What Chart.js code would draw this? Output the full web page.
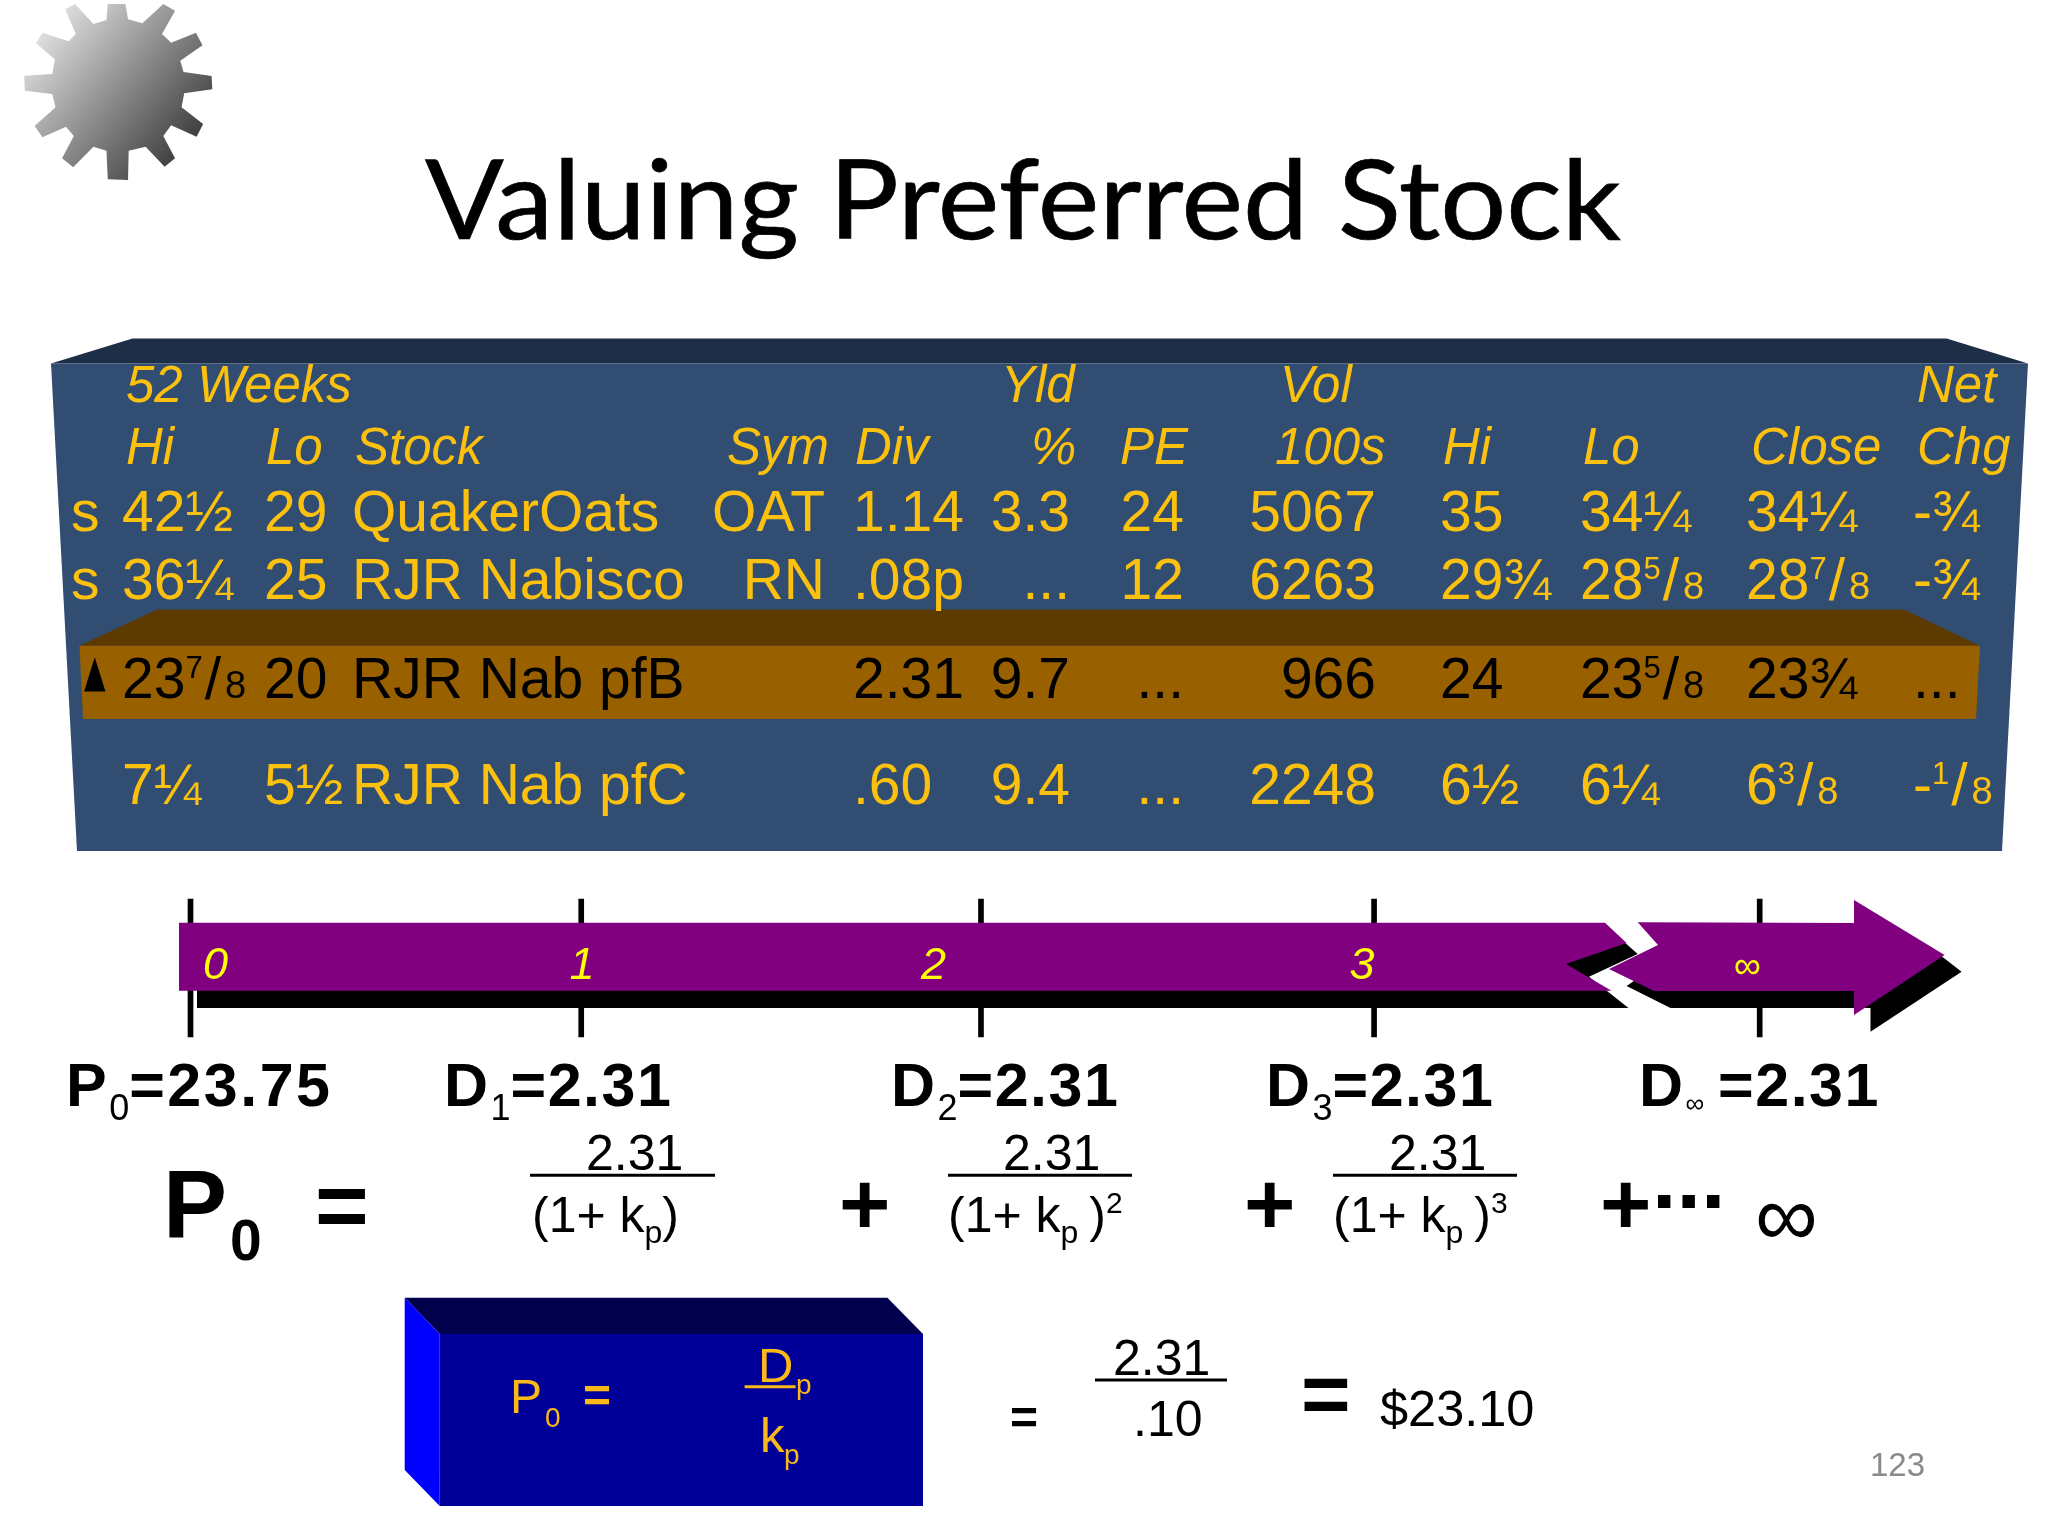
<!DOCTYPE html>
<html>
<head>
<meta charset="utf-8">
<title>Valuing Preferred Stock</title>
<style>
html,body{margin:0;padding:0;background:#fff;}
canvas{display:block;}
</style>
<script src="https://cdn.jsdelivr.net/npm/chart.js@4/dist/chart.umd.min.js"></script>
</head>
<body>
<canvas id="slide" width="2048" height="1536"></canvas>
<script>
// quote table, one list per column ("^7/8" = small numerator, slash, small denominator)
const title='Valuing Preferred Stock';
const headerTop=['52 Weeks','Yld','Vol','Net'];
const headerBottom=['Hi','Lo','Stock','Sym','Div','%','PE','100s','Hi','Lo','Close','Chg'];
const rowFlag=['s','s','▲',''];
const hi52=['42½','36¼','23^7/8','7¼'];
const lo52=['29','25','20','5½'];
const stock=['QuakerOats','RJR Nabisco','RJR Nab pfB','RJR Nab pfC'];
const sym=['OAT','RN','',''];
const div=['1.14','.08p','2.31','.60'];
const yld=['3.3','...','9.7','9.4'];
const pe=['24','12','...','...'];
const vol=['5067','6263','966','2248'];
const hi=['35','29¾','24','6½'];
const lo=['34¼','28^5/8','23^5/8','6¼'];
const close=['34¼','28^7/8','23¾','6^3/8'];
const netChg=['-¾','-¾','...','-^1/8'];

// timeline
const periodLabels=['0','1','2','3','∞'];
const periodValues=[0,0.996,2.015,3.017,4];
const flowNames=['P','D','D','D','D'];
const flowSubs=['0','1','2','3','∞'];
const flowValues=['23.75','2.31','2.31','2.31','2.31'];

// formula
const dividend='2.31';
const requiredReturn='.10';
const answer='$23.10';
const pageNumber='123';

// layout, in slide pixels
const FACE='#314e72',FACE_TOP='#1f2e47',BAR='#996000',BAR_TOP='#5c3a00';
const PURPLE='#800080',GOLD='#fcc00e',BOX_GOLD='#fbb917';
const SANS='"Liberation Sans"';
const headerTopX=[126,1001,1280,1917];
const headerBottomX=[126,266,355,727,855,1031,1120,1275,1443,1583,1751,1917];
const headerY=[402,463.6];
const rowY=[530.8,598.6,697.8,803.8];
const columns=[
  [rowFlag,71,'left'],[hi52,122,'left'],[lo52,264,'left'],[stock,352,'left'],
  [sym,825,'right'],[div,853,'left'],[yld,1070,'right'],[pe,1184,'right'],
  [vol,1376,'right'],[hi,1440,'left'],[lo,1580,'left'],[close,1746,'left'],[netChg,1913,'left'],
];
const flagX=84;
const periodLabelX=[215.5,582,933.5,1362,1747];
const flowX=[66,444,891,1266,1639];
const tickSpan=[899,1037];
const gearOutline=[[165,12],[192,12],[196,58],[218,70],[250,12],[268,32],[248,102],[262,128],[300,98],[310,136],[276,182],[281,216],[324,228],[325,268],[282,280],[278,322],[311,372],[301,410],[262,376],[250,408],[268,475],[252,500],[223,440],[197,452],[196,540],[165,538],[163,452],[143,440],[112,502],[95,475],[113,408],[101,380],[65,412],[53,378],[85,322],[80,282],[38,272],[37,227],[80,222],[84,178],[55,130],[65,98],[105,124],[116,102],[100,28],[115,12],[143,72],[163,60]]
  .map(([x,y])=>[x/1.531,y/3]);

function shapes(){
  return {
    panelTop:[[132.5,338.6],[1946.6,338.6],[2028,363.4],[51,363.4]],
    panelFace:[[51,363.4],[2028,363.4],[2002,851],[77,851]],
    barTop:[[157,609.6],[1904,609.6],[1980,645.8],[79.5,645.8]],
    barFace:[[79.5,645.8],[1980,645.8],[1976,719],[83,719]],
    shadowA:[[197,940],[1622,940],[1637.7,954],[1589,976.7],[1628.5,1008],[197,1008]],
    shadowB:[[1626.6,986],[1670.5,1008],[1870.5,1008],[1870.5,1031.7],[1961.6,971.7],[1940,955],[1650,970]],
    arrowA:[[179,922.7],[1605,922.7],[1626.6,943],[1566,964],[1611.5,990.7],[179,990.7]],
    arrowB:[[1637.7,922.3],[1854,923],[1854,900],[1944.6,955],[1854,1015],[1854,991],[1654,991],[1609,969],[1658,945]],
    boxTop:[[404.7,1297.7],[887.4,1297.7],[923,1334],[439.7,1334]],
    boxSide:[[404.7,1297.7],[439.7,1334],[439.7,1506],[404.7,1470]],
    boxFace:[[439.7,1334],[923,1334],[923,1506],[439.7,1506]],
  };
}

const slidePlugin={
  id:'slide',
  beforeDatasetsDraw(chart){
    const {ctx,scales}=chart;
    const X=v=>scales.x.getPixelForValue(v),Y=v=>scales.y.getPixelForValue(v);
    const poly=(pts,fill)=>{
      ctx.beginPath();
      pts.forEach(([a,b],i)=>i?ctx.lineTo(X(a),Y(b)):ctx.moveTo(X(a),Y(b)));
      ctx.closePath();
      ctx.fillStyle=fill;
      ctx.fill();
    };
    const s=shapes();
    const g=ctx.createLinearGradient(X(30),Y(15),X(205),Y(165));
    g.addColorStop(0,'#f0f0f0');
    g.addColorStop(1,'#2a2a2a');
    poly(gearOutline,g);
    poly(s.panelTop,FACE_TOP);
    poly(s.panelFace,FACE);
    poly(s.barTop,BAR_TOP);
    poly(s.barFace,BAR);
    poly(s.boxTop,'#00004d');
    poly(s.boxSide,'#0000ff');
    poly(s.boxFace,'#000099');
    // title, squeezed to the reference width and thickened a little
    ctx.save();
    ctx.font='110px Lato';
    ctx.fillStyle='#000';
    ctx.strokeStyle='#000';
    ctx.lineWidth=0.7;
    const w=ctx.measureText(title).width;
    ctx.translate(X(425),Y(239));
    ctx.scale(1196/w,1);
    ctx.textBaseline='alphabetic';
    ctx.fillText(title,0,0);
    ctx.strokeText(title,0,0);
    ctx.restore();
  },
  afterDatasetsDraw(chart){
    const {ctx,scales}=chart;
    const X=v=>scales.x.getPixelForValue(v),Y=v=>scales.y.getPixelForValue(v);
    const poly=(pts,fill)=>{
      ctx.beginPath();
      pts.forEach(([a,b],i)=>i?ctx.lineTo(X(a),Y(b)):ctx.moveTo(X(a),Y(b)));
      ctx.closePath();
      ctx.fillStyle=fill;
      ctx.fill();
    };
    const text=(str,x,y,size,color,o={})=>{
      ctx.font=(o.italic?'italic ':'')+(o.bold?'bold ':'')+size+'px '+(o.family||SANS);
      ctx.fillStyle=color;
      ctx.textAlign=o.align||'left';
      ctx.textBaseline='alphabetic';
      ctx.letterSpacing=(o.spacing||0)+'px';
      ctx.fillText(str,X(x),Y(y));
      const adv=ctx.measureText(str).width;
      ctx.letterSpacing='0px';
      return x+adv;
    };
    const rule=(x1,x2,y,color,width=3)=>{
      ctx.strokeStyle=color;
      ctx.lineWidth=width;
      ctx.beginPath();
      ctx.moveTo(X(x1),Y(y));
      ctx.lineTo(X(x2),Y(y));
      ctx.stroke();
    };
    const s=shapes();
    poly(s.shadowA,'#000');
    poly(s.shadowB,'#000');
    poly(s.arrowA,PURPLE);
    poly(s.arrowB,PURPLE);

    // table
    headerTop.forEach((t,i)=>text(t,headerTopX[i],headerY[0],51,GOLD,{italic:true}));
    headerBottom.forEach((t,i)=>text(t,headerBottomX[i],headerY[1],51,GOLD,{italic:true}));
    columns.forEach(([values,x,align])=>{
      values.forEach((v,r)=>{
        const color=r===2?'#000':GOLD;
        const y=rowY[r];
        if(v==='▲'){
          ctx.save();
          ctx.translate(X(flagX),Y(y-12));
          ctx.scale(1,1.6);
          ctx.font='28px "DejaVu Sans"';
          ctx.fillStyle=color;
          ctx.textAlign='left';
          ctx.fillText(v,0,0);
          ctx.restore();
          return;
        }
        const m=v.match(/^(.*)\^(\d)\/(\d)$/);
        if(!m){ text(v,x,y,57,color,{align}); return; }
        let nx=text(m[1],x,y,57,color);
        nx=text(m[2],nx,y-20,31,color)+2;
        nx=text('/',nx,y+1,59,color)+4;
        text(m[3],nx,y,38,color);
      });
    });

    // timeline labels
    periodLabels.forEach((t,i)=>{
      const small=t==='∞';
      text(t,periodLabelX[i],small?978:979.3,small?38:45,'#ffff00',{italic:true,align:'center'});
    });
    flowNames.forEach((n,i)=>{
      const y=1106;
      let nx=text(n,flowX[i],y,61,'#000',{bold:true,spacing:1.5});
      const inf=flowSubs[i]==='∞';
      nx=text(flowSubs[i],nx+1,inf?1112:1120,inf?26:36,'#000');
      if(inf) nx+=14;
      text('='+flowValues[i],nx,y,61,'#000',{bold:true,spacing:i===0?2.5:1.5});
    });

    // formula row
    const BIG=92;
    let nx=text('P',163,1236.7,96,'#000',{bold:true});
    text('0',nx+3,1260,57,'#000',{bold:true});
    text('=',315,1236.5,BIG,'#000',{bold:true});
    text('+',839,1234,88,'#000',{bold:true});
    text('+',1244,1234,88,'#000',{bold:true});
    text('+',1600,1234,88,'#000',{bold:true});
    text('...',1652,1208,88,'#000',{bold:true});
    text('∞',1755,1246,88,'#000');
    const fraction=(numX,lineA,lineB,denX,power)=>{
      text(dividend,numX,1170,50,'#000');
      rule(lineA,lineB,1175.3,'#000');
      let d=text('(1+ k',denX,1231.7,50,'#000');
      d=text('p',d,1243,32,'#000');
      d=text(power?' )':')',d-(power?3:0),1231.7,50,'#000');
      if(power) text(power,d,1213,30,'#000');
    };
    fraction(586,530,715,532,'');
    fraction(1003,948,1132,948,'2');
    fraction(1389,1333,1517,1333,'3');

    // boxed formula
    nx=text('P',510,1412.7,48,BOX_GOLD);
    text('0',545,1426.7,28,BOX_GOLD);
    text('=',583,1412,48,BOX_GOLD,{bold:true});
    text('D',758,1381.7,49,BOX_GOLD);
    text('p',796,1394,28,BOX_GOLD);
    rule(744.6,795.6,1386.7,BOX_GOLD);
    text('k',760,1451.7,49,BOX_GOLD);
    text('p',784,1464,28,BOX_GOLD);

    text('=',1010,1434,48,'#000',{bold:true});
    text(dividend,1113,1375,50,'#000');
    rule(1095,1227,1380,'#000');
    text(requiredReturn,1133,1436,50,'#000');
    text('=',1301,1423,85,'#000',{bold:true});
    text(answer,1380,1426,50.5,'#000');
    text(pageNumber,1870,1476,33,'#8a8a8a');
  }
};

new Chart(document.getElementById('slide'),{
  type:'bar',
  data:{
    datasets:[{
      label:'Period',
      xAxisID:'period',
      yAxisID:'y',
      data:periodValues.map(p=>({x:p,y:tickSpan})),
      backgroundColor:'#000',
      barThickness:5,
    }]
  },
  options:{
    responsive:false,
    animation:false,
    devicePixelRatio:1,
    layout:{padding:0},
    plugins:{legend:{display:false},tooltip:{enabled:false},title:{display:false}},
    scales:{
      x:{type:'linear',display:false,min:0,max:2048,offset:false},
      period:{type:'linear',axis:'x',display:false,offset:false,min:-190.5/392.3,max:(2048-190.5)/392.3},
      y:{type:'linear',display:false,min:0,max:1536,reverse:true},
    }
  },
  plugins:[slidePlugin]
});
</script>
</body>
</html>
